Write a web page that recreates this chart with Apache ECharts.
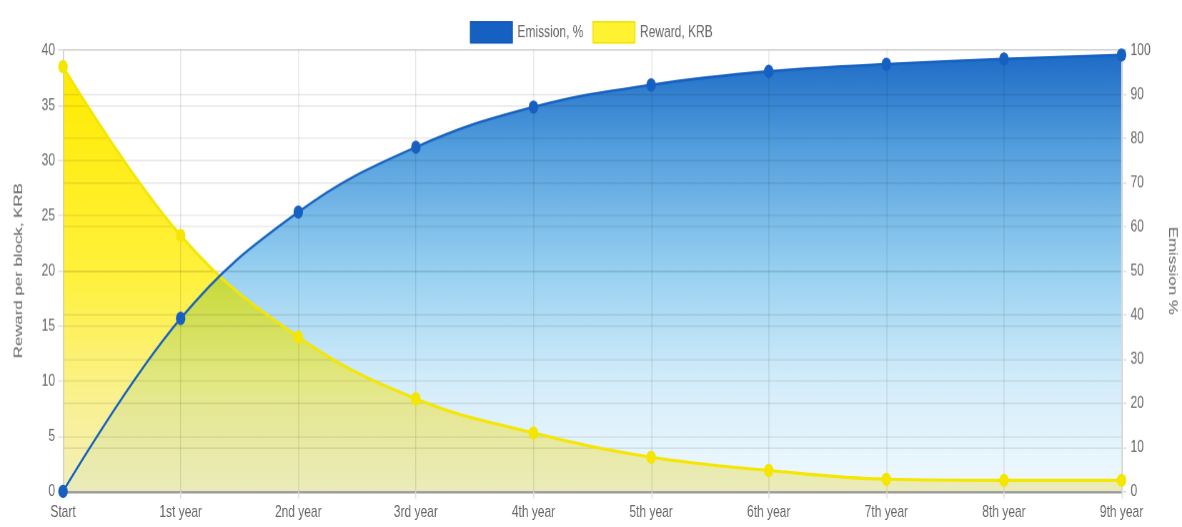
<!DOCTYPE html>
<html>
<head>
<meta charset="utf-8">
<script src="https://cdn.jsdelivr.net/npm/echarts@6/dist/echarts.min.js"></script>
<style>
    html, body { margin: 0; padding: 0; background: #fff; }
    body { width: 1182px; height: 527px; }
    /* the original picture is stretched vertically, so draw at 376px and stretch it */
    .wrap {
        position: relative; width: 1182px; height: 376px; background: #fff;
        transform: scale(1, 1.4016); transform-origin: 0 0;
    }
    .layer { position: absolute; left: 0; top: 0; width: 1182px; height: 376px; }
    #fillYellow { mix-blend-mode: multiply; }
    #fillYellow2 { opacity: 0.45; }
</style>
</head>
<body>
<div class="wrap">
    <div id="fillBlue" class="layer"></div>
    <div id="fillYellow" class="layer"></div>
    <div id="fillYellow2" class="layer"></div>
    <div id="myChart" class="layer"></div>
</div>
<script>
    // categories and values
    var years = ['Start', '1st year', '2nd year', '3rd year', '4th year', '5th year', '6th year', '7th year', '8th year', '9th year'];
    var emission = [0, 39.2, 63.3, 78, 87.1, 92.1, 95.2, 96.8, 98, 98.9];
    var reward = [38.5, 23.2, 14, 8.4, 5.3, 3.1, 1.9, 1.1, 1, 1];

    var font = '"Liberation Sans", Arial, sans-serif';
    var grey = '#666';
    var blue = '#1560c0';
    var yellow = '#f4e600';
    var grid = {left: 63, right: 61, top: 35.7, bottom: 25.7, outerBoundsMode: 'none'};

    // same scales on every layer, axes only shown on the top one
    function axes(show) {
        return {
            xAxis: {
                type: 'category', boundaryGap: false, data: years, show: show,
                axisLine: {lineStyle: {color: '#999', width: 1.5}},
                axisTick: {show: true, length: 5, lineStyle: {color: '#ddd'}},
                axisLabel: {color: grey, fontSize: 12, fontFamily: font, margin: 9},
                splitLine: {show: show, lineStyle: {color: 'rgba(0,0,0,0.1)'}}
            },
            yAxis: [
                {
                    type: 'value', min: 0, max: 40, interval: 5, show: show,
                    name: 'Reward per block, KRB',
                    nameLocation: 'middle', nameGap: 38, nameRotate: 90,
                    nameTextStyle: {color: grey, fontSize: 12, fontFamily: font},
                    axisLine: {show: true, lineStyle: {color: '#ccc'}},
                    axisTick: {show: true, length: 5, lineStyle: {color: '#ddd'}},
                    axisLabel: {color: grey, fontSize: 12, fontFamily: font, margin: 8},
                    splitLine: {show: show, lineStyle: {color: 'rgba(0,0,0,0.1)'}}
                },
                {
                    type: 'value', min: 0, max: 100, interval: 10, show: show,
                    name: 'Emission %',
                    nameLocation: 'middle', nameGap: 45, nameRotate: -90,
                    nameTextStyle: {color: grey, fontSize: 12, fontFamily: font},
                    axisLine: {show: true, lineStyle: {color: '#ccc'}},
                    axisTick: {show: true, length: 5, lineStyle: {color: '#ddd'}},
                    axisLabel: {color: grey, fontSize: 12, fontFamily: font, margin: 9},
                    splitLine: {show: show, lineStyle: {color: 'rgba(0,0,0,0.1)'}}
                }
            ]
        };
    }

    function makeChart(id, extra) {
        var chart = echarts.init(document.getElementById(id), null, {devicePixelRatio: 1.4});
        var opt = axes(extra.showAxes);
        opt.animation = false;
        opt.grid = grid;
        opt.series = extra.series;
        if (extra.legend) opt.legend = extra.legend;
        chart.setOption(opt);
        return chart;
    }

    // bottom layer: blue area
    makeChart('fillBlue', {
        showAxes: false,
        series: [{
            name: 'Emission, %', type: 'line', yAxisIndex: 1, data: emission,
            smooth: 0.4, symbol: 'none', lineStyle: {width: 0},
            areaStyle: {
                opacity: 1,
                color: new echarts.graphic.LinearGradient(0, 0, 0, 1, [
                    {offset: 0, color: 'rgb(30,108,198)'},
                    {offset: 0.22, color: 'rgb(85,160,222)'},
                    {offset: 0.49, color: 'rgb(150,208,240)'},
                    {offset: 0.75, color: 'rgb(212,237,250)'},
                    {offset: 1, color: 'rgb(241,249,254)'}
                ])
            }
        }]
    });

    // yellow area, once multiplied over the blue and once laid on normally
    function yellowFill(id) {
        makeChart(id, {
            showAxes: false,
            series: [{
                name: 'Reward, KRB', type: 'line', yAxisIndex: 0, data: reward,
                smooth: 0.4, symbol: 'none', lineStyle: {width: 0},
                areaStyle: {
                    opacity: 1,
                    color: new echarts.graphic.LinearGradient(0, 0, 0, 1, [
                        {offset: 0, color: '#ffeb00'},
                        {offset: 0.5, color: '#fff13e'},
                        {offset: 0.78, color: '#faf190'},
                        {offset: 1, color: '#f3efbc'}
                    ])
                }
            }]
        });
    }
    yellowFill('fillYellow');
    yellowFill('fillYellow2');

    // top layer: axes, grid, legend, lines and dots
    makeChart('myChart', {
        showAxes: true,
        legend: {
            top: 10, left: 'center', icon: 'rect',
            itemWidth: 42, itemHeight: 15, itemGap: 9,
            textStyle: {color: grey, fontSize: 12, fontFamily: font},
            data: [
                {name: 'Emission, %', itemStyle: {color: blue, borderColor: '#0d5ab8', borderWidth: 1}},
                {name: 'Reward, KRB', itemStyle: {color: '#fff230', borderColor: '#f0e000', borderWidth: 1}}
            ]
        },
        series: [
            {
                name: 'Reward, KRB', type: 'line', yAxisIndex: 0, data: reward,
                smooth: 0.4, z: 2,
                symbol: 'circle', symbolSize: 9.5,
                itemStyle: {color: yellow},
                lineStyle: {color: yellow, width: 2.2}
            },
            {
                name: 'Emission, %', type: 'line', yAxisIndex: 1, data: emission,
                smooth: 0.4, z: 3,
                symbol: 'circle', symbolSize: 9.5,
                itemStyle: {color: blue},
                lineStyle: {color: blue, width: 1.8}
            }
        ]
    });
</script>
</body>
</html>
